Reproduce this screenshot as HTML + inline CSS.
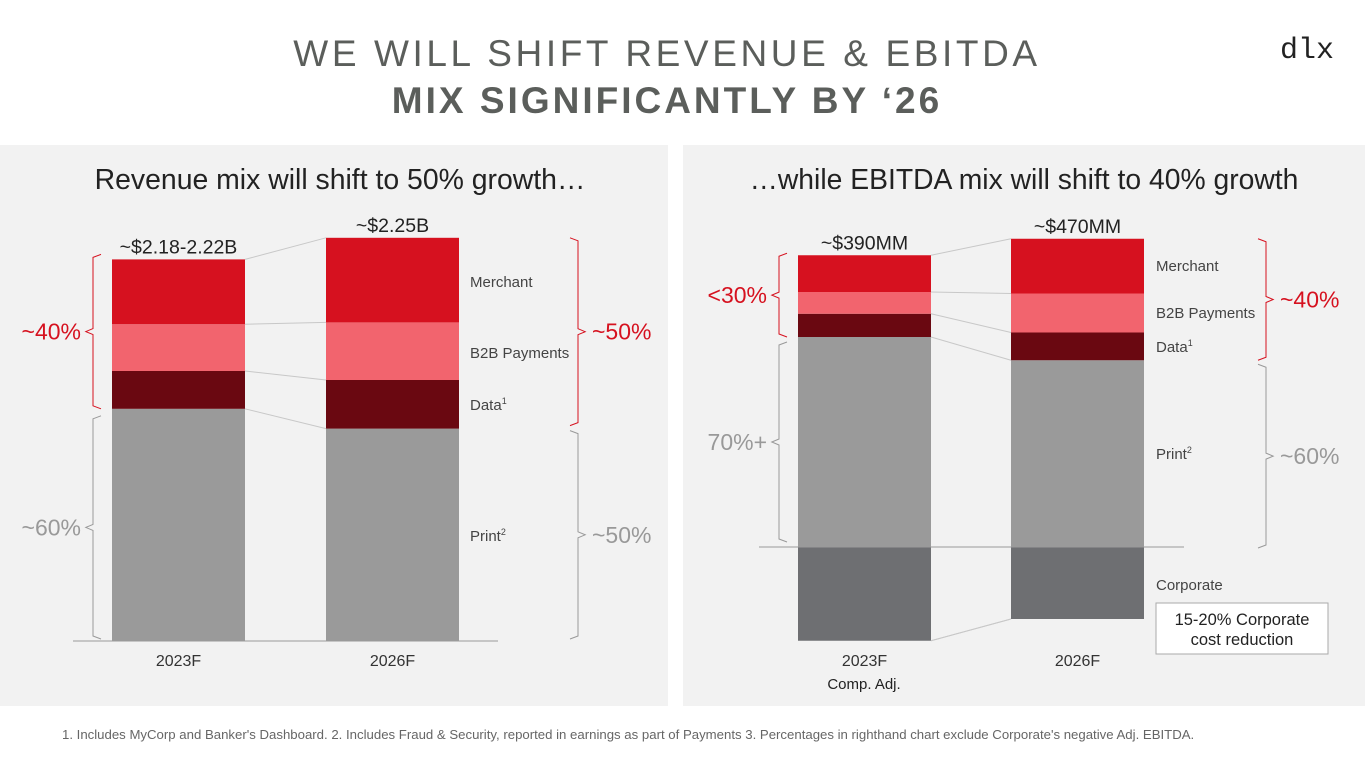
<!DOCTYPE html>
<html><head><meta charset="utf-8"><style>
body{margin:0;width:1365px;height:768px;background:#fff;font-family:"Liberation Sans",sans-serif;overflow:hidden;position:relative}
svg text{font-family:"Liberation Sans",sans-serif}
</style></head><body>
<svg id="s" width="1365" height="768" xmlns="http://www.w3.org/2000/svg">
<text x="667" y="66" text-anchor="middle" font-size="37" letter-spacing="3.6" fill="#5b5e5b">WE WILL SHIFT REVENUE &amp; EBITDA</text>
<text x="667" y="113" text-anchor="middle" font-size="37" font-weight="bold" letter-spacing="3" fill="#5b5e5b">MIX SIGNIFICANTLY BY ‘26</text>
<text x="1307" y="58" text-anchor="middle" font-size="30" style="font-family:'Liberation Mono',monospace" fill="#222">dlx</text>
<rect x="0" y="145" width="668" height="561" fill="#f2f2f2"/>
<rect x="683" y="145" width="682" height="561" fill="#f2f2f2"/>
<text x="340" y="189" text-anchor="middle" font-size="28.4" fill="#222">Revenue mix will shift to 50% growth…</text>
<text x="1024" y="189" text-anchor="middle" font-size="28.3" fill="#222">…while EBITDA mix will shift to 40% growth</text>
<g id="g"></g>
<text x="62" y="739" font-size="13.2" fill="#666">1. Includes MyCorp and Banker's Dashboard. 2. Includes Fraud &amp; Security, reported in earnings as part of Payments 3. Percentages in righthand chart exclude Corporate's negative Adj. EBITDA.</text>
</svg>
<script>
// Revenue ($B)
const revCategories = ["2023F","2026F"];
const revPrint = [1.29, 1.18];
const revData = [0.21, 0.27];
const revB2B = [0.26, 0.32];
const revMerchant = [0.36, 0.47];
const revTotals = ["~$2.18-2.22B","~$2.25B"];
// EBITDA ($MM)
const ebCategories = ["2023F","2026F"];
const ebPrint = [280, 249];
const ebData = [31, 37];
const ebB2B = [29, 52];
const ebMerchant = [49, 73];
const ebCorporate = [-125, -96];
const ebTotals = ["~$390MM","~$470MM"];

const NS="http://www.w3.org/2000/svg", G=document.getElementById('g');
function mk(t,a,txt){const e=document.createElementNS(NS,t);for(const k in a)e.setAttribute(k,a[k]);if(txt!==undefined)e.textContent=txt;G.appendChild(e);return e;}
const COL={print:"#9a9a9a",data:"#6a0811",b2b:"#f2646e",merchant:"#d6111f",corp:"#6e6f72"};

function chart(cfg){
  const y=v=>cfg.base-v*cfg.k;
  const tops=[];
  cfg.cats.forEach((c,i)=>{
    const x0=cfg.xs[i];
    let acc=0;const b=[y(0)];
    [["print",cfg.print[i]],["data",cfg.data[i]],["b2b",cfg.b2b[i]],["merchant",cfg.merch[i]]].forEach(([n,v])=>{
      const r=mk('rect',{x:x0,y:y(acc+v),width:cfg.w,height:v*cfg.k,fill:COL[n]});
      
      
      acc+=v;b.push(y(acc));
    });
    if(cfg.corp){const v=cfg.corp[i];
      const r=mk('rect',{x:x0,y:y(0),width:cfg.w,height:-v*cfg.k,fill:COL.corp});
      
      
      b.push(y(v));}
    tops.push(b);
    const t=mk('text',{x:x0+cfg.w/2,y:b[4]-6,'text-anchor':'middle','font-size':19.5,fill:'#222'},cfg.totals[i]);
    
    
    const l=mk('text',{x:x0+cfg.w/2,y:666,'text-anchor':'middle','font-size':16,fill:'#333'},c);
    
    
  });
  for(let j=1;j<tops[0].length;j++){
    const ln=mk('line',{x1:cfg.xs[0]+cfg.w,y1:tops[0][j],x2:cfg.xs[1],y2:tops[1][j],stroke:'#c8c8c8','stroke-width':1});
    
    
  }
  if(cfg.corp){const ln=mk('line',{x1:cfg.xs[0]+cfg.w,y1:tops[0][5],x2:cfg.xs[1],y2:tops[1][5],stroke:'#c8c8c8'});
    
    }
  const ax=mk('line',{x1:cfg.ax0,y1:cfg.base,x2:cfg.ax1,y2:cfg.base,stroke:'#999'});
  
  
  return tops;
}
function bracket(x,y1,y2,dir,color,label,name){
  const m=(y1+y2)/2,h=8*dir;
  const path=`M${x+h} ${y1} L${x} ${y1+3} L${x} ${m-3} L${x-h*0.9} ${m} L${x} ${m+3} L${x} ${y2-3} L${x+h} ${y2}`;
  const e=mk('path',{d:path,fill:'none',stroke:color,'stroke-width':1});
  
  
  const t=mk('text',{x:dir>0?x-12:x+14,y:m+8,'text-anchor':dir>0?'end':'start','font-size':23,fill:color},label);
  
  
}
function lab(x,y,txt,sup,name){
  const t=mk('text',{x:x,y:y,'font-size':15,fill:'#444'},txt);
  if(sup){const s=document.createElementNS(NS,'tspan');s.setAttribute('font-size','9');s.setAttribute('dy','-6');s.textContent=sup;t.appendChild(s);}
  
  
}
const rt=chart({p:'revenue',cats:revCategories,print:revPrint,data:revData,b2b:revB2B,merch:revMerchant,totals:revTotals,base:641,k:180,xs:[112,326],w:133,ax0:73,ax1:498});
bracket(93,rt[0][4]-5,rt[0][1],1,'#d6111f','~40%','revenue-2023-growth');
bracket(93,rt[0][1]+7,639,1,'#999','~60%','revenue-2023-print');
bracket(578,rt[1][4],rt[1][1]-3,-1,'#d6111f','~50%','revenue-2026-growth');
bracket(578,rt[1][1]+2,639,-1,'#999','~50%','revenue-2026-print');
lab(470,287,'Merchant','','revenue-legend-merchant');
lab(470,358,'B2B Payments','','revenue-legend-b2b');
lab(470,410,'Data','1','revenue-legend-data');
lab(470,541,'Print','2','revenue-legend-print');

const et=chart({p:'ebitda',cats:ebCategories,print:ebPrint,data:ebData,b2b:ebB2B,merch:ebMerchant,corp:ebCorporate,totals:ebTotals,base:547,k:0.75,xs:[798,1011],w:133,ax0:759,ax1:1184});
bracket(779,et[0][4]-2,et[0][1],1,'#d6111f','<30%','ebitda-2023-growth');
bracket(779,et[0][1]+5,542,1,'#999','70%+','ebitda-2023-print');
bracket(1266,et[1][4],et[1][1],-1,'#d6111f','~40%','ebitda-2026-growth');
bracket(1266,et[1][1]+4,548,-1,'#999','~60%','ebitda-2026-print');
lab(1156,271,'Merchant','','ebitda-legend-merchant');
lab(1156,318,'B2B Payments','','ebitda-legend-b2b');
lab(1156,352,'Data','1','ebitda-legend-data');
lab(1156,459,'Print','2','ebitda-legend-print');
lab(1156,590,'Corporate','','ebitda-legend-corporate');
const sub=mk('text',{x:864,y:689,'text-anchor':'middle','font-size':15,fill:'#222'},'Comp. Adj.');


const box=mk('rect',{x:1156,y:603,width:172,height:51,fill:'#fff',stroke:'#aaa'});


const c1=mk('text',{x:1242,y:625,'text-anchor':'middle','font-size':16.5,fill:'#222'},'15-20% Corporate');


const c2=mk('text',{x:1242,y:645,'text-anchor':'middle','font-size':16.5,fill:'#222'},'cost reduction');


</script>
</body></html>
